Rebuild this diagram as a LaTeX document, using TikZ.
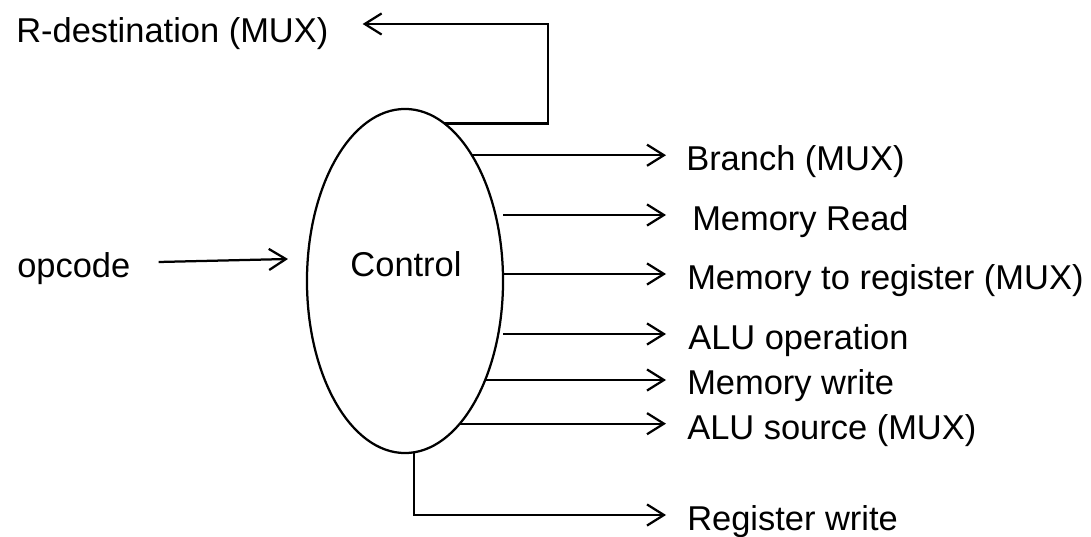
\documentclass[tikz,border=0pt]{standalone}
\usepackage{fontspec}
\setmainfont{Liberation Sans}
\usetikzlibrary{arrows.meta,shapes.geometric}

\tikzset{
	sig/.style={line width=1.6pt, -{Straight Barb[length=12pt,width=15pt]}},
	unit/.style={ellipse, draw, line width=1.6pt, minimum width=4.9cm, minimum height=8.6cm, inner sep=0pt, outer sep=0pt},
	lbl/.style={anchor=west, inner sep=0pt, font=\fontsize{24.5}{29}\selectfont, text height=22pt, text depth=0pt},
}

\begin{document}
\begin{tikzpicture}[x=0.025cm, y=-0.025cm]
	\useasboundingbox (0,0) rectangle (1091,537);
	% control unit
	\node[unit] (ctrl) at (405,281) {};
	\node[lbl, anchor=base] (ctrltxt) at (406,277) {Control};
	% all arrow heads end in one column
	\coordinate (tipx) at (666,0);
	\coordinate (rdturn) at (548,24);
	% input
	\node[lbl] (opc) at (17,262) {opcode};
	\draw[sig] ([xshift=0.7cm]opc.east) -- ([xshift=-0.475cm,yshift=0.55cm]ctrl.west);
	% output signals
	\node[lbl] (rdst) at (16,27) {R-destination (MUX)};
	\node[lbl] (brn) at (686,155) {Branch (MUX)};
	\node[lbl] (mrd) at (692,215) {Memory Read};
	\node[lbl] (mtr) at (687,274) {Memory to register (MUX)};
	\node[lbl] (alo) at (688,334) {ALU operation};
	\node[lbl] (mwr) at (687,379) {Memory write};
	\node[lbl] (als) at (687,424) {ALU source (MUX)};
	\node[lbl] (rgw) at (687,515) {Register write};
	% loop back over the top
	\draw[sig, shorten >=0.85cm] (ctrl.76) -| (rdturn) -- (rdturn -| rdst.east);
	% straight outputs
	\draw[sig] (ctrl.62) -- (ctrl.62 -| tipx);
	\draw[sig] (ctrl.east |- mrd.west) -- (tipx |- mrd.west);
	\draw[sig] (ctrl.east |- mtr.west) -- (tipx |- mtr.west);
	\draw[sig] (ctrl.east |- alo.west) -- (tipx |- alo.west);
	\draw[sig] (ctrl.-51) -- (ctrl.-51 -| tipx);
	\draw[sig] (ctrl.-69) -- (ctrl.-69 -| tipx);
	% down and out from the bottom
	\draw[sig] (ctrl.-87) |- (tipx |- rgw.west);
\end{tikzpicture}
\end{document}
